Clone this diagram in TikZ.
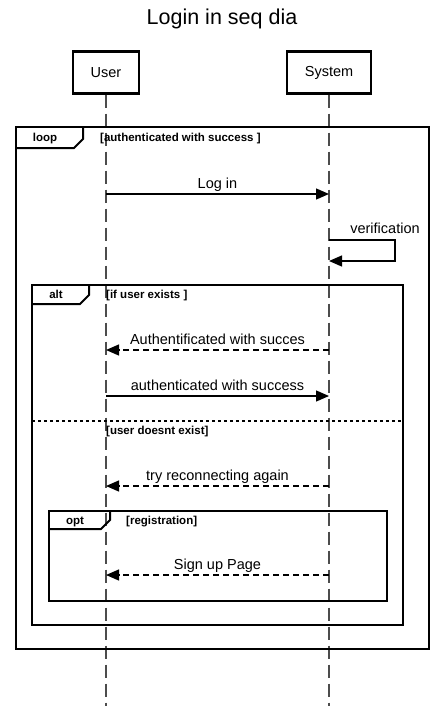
\documentclass[tikz,border=0pt]{standalone}
\usepackage{fontspec}
\setmainfont{Liberation Sans}
\usetikzlibrary{arrows.meta}
\begin{document}
\begin{tikzpicture}[x=1pt,y=-1pt,
    participant/.style={draw=black,line width=2.2pt,minimum height=42pt,inner sep=0pt,
      font=\fontsize{14.5}{17}\selectfont},
    lifeline/.style={draw=black!70,line width=1.6pt,dash pattern=on 13pt off 6pt},
    msg/.style={draw=black,line width=1.3pt,-{Triangle[length=13pt,width=11pt]}},
    reply/.style={msg,dash pattern=on 6pt off 4pt},
    msglabel/.style={font=\fontsize{14.5}{17}\selectfont,inner sep=0pt,anchor=base},
    frame/.style={draw=black,line width=2pt},
    separator/.style={draw=black,line width=2pt,dash pattern=on 3pt off 3pt},
    framelabel/.style={font=\bfseries\fontsize{11.5}{14}\selectfont,inner sep=0pt,anchor=base},
    guard/.style={framelabel,anchor=base west}]
  \useasboundingbox (0,0) rectangle (445,706);
  \node[font=\fontsize{21.5}{25}\selectfont,inner sep=0pt,anchor=base] (title) at (222,25) {Login in seq dia};
  % participants and lifelines
  \node[participant,minimum width=66pt] (user) at (106,72.5) {User};
  \node[participant,minimum width=84pt] (system) at (329,72.5) {System};
  \coordinate (userend) at (user |- 0,706);
  \coordinate (systemend) at (system |- 0,706);
  \draw[lifeline] (user.south) -- (userend);
  \draw[lifeline] (system.south) -- (systemend);
  % loop frame
  \draw[frame] (16,127) rectangle (429,649);
  \draw[frame] (16,148) -- (74,148) -- (83,139) -- (83,127);
  \node[framelabel] (looplabel) at (45,142) {loop};
  \node[guard] (loopguard) at (100,142) {[authenticated with success ]};
  % log in
  \coordinate (loginu) at (user |- 0,194);
  \coordinate (logins) at (system |- 0,194);
  \draw[msg] (loginu) -- node[msglabel,pos=0.5,yshift=6pt] {Log in} (logins);
  % verification
  \coordinate (verifa) at (system |- 0,240);
  \coordinate (verifb) at (system |- 0,261);
  \draw[msg] (verifa) -- ++(66,0) -- ++(0,21) -- (verifb);
  \node[msglabel] (veriflabel) at (385,233) {verification};
  % alt frame
  \draw[frame] (32,285) rectangle (403,625);
  \draw[frame] (32,304) -- (80,304) -- (89,295) -- (89,285);
  \node[framelabel] (altlabel) at (56,298) {alt};
  \node[guard] (altguard) at (106,298) {[if user exists ]};
  \coordinate (authu) at (user |- 0,350);
  \coordinate (auths) at (system |- 0,350);
  \draw[reply] (auths) -- node[msglabel,pos=0.5,yshift=6pt] {Authentificated with succes} (authu);
  \coordinate (successu) at (user |- 0,396);
  \coordinate (successs) at (system |- 0,396);
  \draw[msg] (successu) -- node[msglabel,pos=0.5,yshift=6pt] {authenticated with success} (successs);
  \draw[separator] (32,421) -- (403,421);
  \node[guard] (elseguard) at (106,434) {[user doesnt exist]};
  \coordinate (retryu) at (user |- 0,486);
  \coordinate (retrys) at (system |- 0,486);
  \draw[reply] (retrys) -- node[msglabel,pos=0.5,yshift=6pt] {try reconnecting again} (retryu);
  % opt frame
  \draw[frame] (49,511) rectangle (387,601);
  \draw[frame] (49,529) -- (101,529) -- (110,520) -- (110,511);
  \node[framelabel] (optlabel) at (75,524) {opt};
  \node[guard] (optguard) at (126,524) {[registration]};
  \coordinate (signupu) at (user |- 0,575);
  \coordinate (signups) at (system |- 0,575);
  \draw[reply] (signups) -- node[msglabel,pos=0.5,yshift=6pt] {Sign up Page} (signupu);
\end{tikzpicture}
\end{document}
